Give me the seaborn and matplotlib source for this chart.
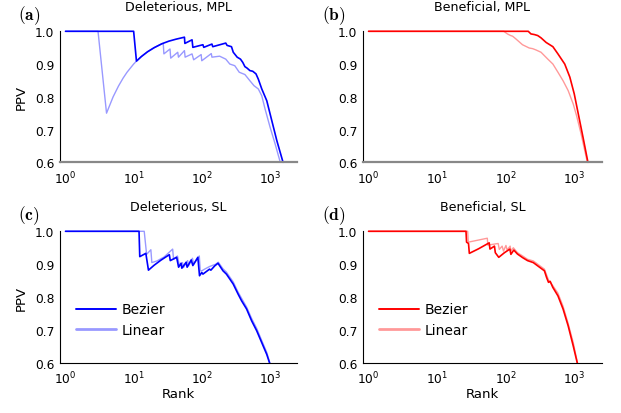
import matplotlib
matplotlib.use("Agg")
import matplotlib.pyplot as plt
import seaborn as sns

# rank / PPV
del_mpl_bez_rank = [1, 10, 11, 13, 16, 20, 26, 33, 42, 55.7, 56.5, 72, 74, 104, 107, 141, 145,
                    225, 235, 273, 290, 331, 370, 400, 430, 460, 509, 560, 625, 676, 760, 900,
                    1067, 1265, 1560]
del_mpl_bez_ppv = [1.0, 1.0, 0.909, 0.923, 0.9375, 0.95, 0.962, 0.97, 0.976, 0.982, 0.963,
                   0.974, 0.951, 0.959, 0.951, 0.961, 0.953, 0.964, 0.957, 0.953, 0.936, 0.921,
                   0.915, 0.905, 0.892, 0.888, 0.880, 0.878, 0.870, 0.854, 0.824, 0.788,
                   0.727, 0.666, 0.600]
del_mpl_lin_rank = [1, 3, 4, 5, 6, 7, 8, 10, 11, 13, 16, 20, 26, 27.2, 27.8, 34.2, 35, 44.4,
                    45.5, 55.7, 57, 72, 76, 98, 100, 138, 141, 183, 225, 258, 305, 355, 430,
                    509, 584, 676, 760, 849, 1007, 1194, 1420]
del_mpl_lin_ppv = [1.0, 1.0, 0.75, 0.8, 0.833, 0.857, 0.875, 0.9, 0.909, 0.923, 0.9375, 0.95,
                   0.962, 0.963, 0.931, 0.946, 0.918, 0.936, 0.921, 0.941, 0.921, 0.931, 0.913,
                   0.929, 0.910, 0.932, 0.921, 0.924, 0.915, 0.900, 0.895, 0.875, 0.868,
                   0.849, 0.834, 0.824, 0.803, 0.763, 0.707, 0.656, 0.600]

ben_mpl_bez_rank = [1, 211, 231, 260, 290, 324, 384, 482, 571, 717, 851, 986, 1154, 1339, 1560]
ben_mpl_bez_ppv = [1.0, 1.0, 0.992, 0.990, 0.987, 0.980, 0.966, 0.953, 0.931, 0.900, 0.860,
                   0.809, 0.738, 0.671, 0.600]
ben_mpl_lin_rank = [1, 93, 105, 117, 125, 139, 174, 218, 245, 274, 324, 407, 482, 571, 678,
                    804, 953, 1067, 1236, 1530]
ben_mpl_lin_ppv = [1.0, 1.0, 0.992, 0.987, 0.985, 0.977, 0.959, 0.949, 0.947, 0.943, 0.936,
                   0.915, 0.900, 0.875, 0.849, 0.819, 0.778, 0.742, 0.688, 0.600]

del_sl_bez_rank = [1, 12, 12.3, 15.1, 16.5, 20, 25, 33.4, 34.5, 42.8, 45.7, 49.7, 51, 59, 61,
                   70, 74, 87.6, 92.7, 100, 104, 130, 136, 155, 173, 205, 230, 258, 289, 342,
                   384, 455, 540, 640, 759, 900, 990]
del_sl_bez_ppv = [1.0, 1.0, 0.923, 0.933, 0.882, 0.897, 0.912, 0.929, 0.911, 0.921, 0.891,
                  0.903, 0.888, 0.906, 0.891, 0.913, 0.896, 0.921, 0.865, 0.875, 0.870, 0.885,
                  0.882, 0.895, 0.903, 0.880, 0.870, 0.855, 0.840, 0.809, 0.789, 0.764,
                  0.728, 0.698, 0.662, 0.626, 0.600]
del_sl_lin_rank = [1, 14.3, 15.5, 17.9, 18.5, 22, 28, 37.4, 38.5, 44, 47, 52, 54, 62, 64, 73,
                   76, 92, 95, 100, 110, 130, 160, 175, 205, 230, 260, 290, 340, 385, 455,
                   540, 640, 760, 900, 1000]
del_sl_lin_ppv = [1.0, 1.0, 0.93, 0.944, 0.905, 0.910, 0.922, 0.946, 0.915, 0.925, 0.895,
                  0.905, 0.89, 0.911, 0.895, 0.918, 0.90, 0.925, 0.880, 0.880, 0.885, 0.893,
                  0.900, 0.906, 0.886, 0.876, 0.860, 0.846, 0.816, 0.796, 0.770, 0.735,
                  0.705, 0.668, 0.632, 0.600]

ben_sl_bez_rank = [1, 26.2, 26.7, 28.5, 29.3, 40, 57, 58.5, 68, 70, 78.5, 95, 114, 118, 130,
                   147, 175, 206, 250, 290, 363, 390, 416, 440, 480, 571, 678, 804, 953, 1092]
ben_sl_bez_ppv = [1.0, 1.0, 0.967, 0.963, 0.933, 0.947, 0.965, 0.946, 0.955, 0.935, 0.921,
                  0.935, 0.946, 0.930, 0.943, 0.931, 0.920, 0.911, 0.905, 0.895, 0.880, 0.860,
                  0.845, 0.848, 0.830, 0.804, 0.764, 0.713, 0.652, 0.600]
ben_sl_lin_rank = [1, 27.7, 28.3, 53.5, 54.5, 77, 80, 88, 92, 100, 104, 115, 118, 128, 147,
                   175, 206, 250, 290, 363, 416, 480, 571, 678, 804, 953, 1100]
ben_sl_lin_ppv = [1.0, 1.0, 0.967, 0.979, 0.958, 0.963, 0.945, 0.955, 0.940, 0.957, 0.943,
                  0.955, 0.940, 0.950, 0.935, 0.925, 0.915, 0.910, 0.900, 0.885, 0.852,
                  0.835, 0.812, 0.772, 0.720, 0.662, 0.600]

titles = ["Deleterious, MPL", "Beneficial, MPL", "Deleterious, SL", "Beneficial, SL"]
panel_tags = ["a", "b", "c", "d"]

sns.set_theme(style="white")
plt.rcParams["font.family"] = ["DejaVu Sans"]
plt.rcParams["text.color"] = "black"
plt.rcParams["axes.labelcolor"] = "black"
plt.rcParams["xtick.color"] = "black"
plt.rcParams["ytick.color"] = "black"

W, H = 621, 414
fig = plt.figure(figsize=(W / 100, H / 100), dpi=100)

def box(l, r, t, b):
    return [l / W, 1 - b / H, (r - l) / W, (b - t) / H]

axes = [
    fig.add_axes(box(60, 297, 32.3, 163.3)),
    fig.add_axes(box(363, 602, 32.3, 163.3)),
    fig.add_axes(box(60, 297, 232.3, 364)),
    fig.add_axes(box(363, 602, 232.3, 364)),
]

curves = [
    (del_mpl_bez_rank, del_mpl_bez_ppv, del_mpl_lin_rank, del_mpl_lin_ppv, "#0000ff"),
    (ben_mpl_bez_rank, ben_mpl_bez_ppv, ben_mpl_lin_rank, ben_mpl_lin_ppv, "#ff0000"),
    (del_sl_bez_rank, del_sl_bez_ppv, del_sl_lin_rank, del_sl_lin_ppv, "#0000ff"),
    (ben_sl_bez_rank, ben_sl_bez_ppv, ben_sl_lin_rank, ben_sl_lin_ppv, "#ff0000"),
]

for i, ax in enumerate(axes):
    br, bp, lr, lp, col = curves[i]
    sns.lineplot(x=br, y=bp, ax=ax, color=col, lw=1.2, estimator=None, sort=False,
                 label="Bezier")
    sns.lineplot(x=lr, y=lp, ax=ax, color=col, alpha=0.4, lw=1.0, estimator=None,
                 sort=False, label="Linear")
    for ln in ax.lines:
        ln.set_clip_on(False)
    ax.set_xscale("log")
    ax.set_xlim(0.83, 2500)
    ax.set_ylim(0.6, 1.0)
    ax.set_yticks([0.6, 0.7, 0.8, 0.9, 1.0])
    ax.set_yticklabels(["0.6", "0.7", "0.8", "0.9", "1.0"])
    ax.set_xticks([1, 10, 100, 1000])
    ax.minorticks_off()
    ax.tick_params(axis="x", direction="in", length=2, width=0.6, color="#333333",
                   labelcolor="black", labelsize=8.8, pad=5)
    ax.tick_params(axis="y", length=0, labelcolor="black", labelsize=8.8, pad=4)
    for s in ["top", "right"]:
        ax.spines[s].set_visible(False)
    ax.spines["left"].set_color("black")
    ax.spines["left"].set_linewidth(0.8)
    if i < 2:
        ax.spines["bottom"].set_color("#888888")
        ax.spines["bottom"].set_linewidth(1.6)
    else:
        ax.spines["bottom"].set_color("black")
        ax.spines["bottom"].set_linewidth(0.8)
    ax.set_title(titles[i], fontsize=9.1, pad=15, color="black")
    ax.set_xlabel("Rank" if i >= 2 else "", fontsize=9.5, labelpad=0)
    ax.set_ylabel("PPV" if i % 2 == 0 else "", fontsize=9.5, labelpad=5)
    if i >= 2:
        leg = ax.legend(loc="center left", bbox_to_anchor=(0.0675, 0.33),
                        frameon=False, fontsize=10, handlelength=2.9,
                        handletextpad=0.4, borderpad=0, borderaxespad=0,
                        labelspacing=0.45)
        for t in leg.get_texts():
            t.set_color("black")
        leg.get_lines()[0].set_linewidth(1.4)
        leg.get_lines()[1].set_linewidth(2.0)
    else:
        ax.get_legend().remove()

tag_pos = [(29, 15.5), (334, 15.5), (29, 215.5), (334, 215.5)]
for tag, (px, py) in zip(panel_tags, tag_pos):
    fig.text(px / W, 1 - py / H, r"$(\mathbf{" + tag + r"})$", math_fontfamily="cm",
             fontsize=12.5, ha="center", va="center", color="black")

fig.savefig("out.png", dpi=100)
